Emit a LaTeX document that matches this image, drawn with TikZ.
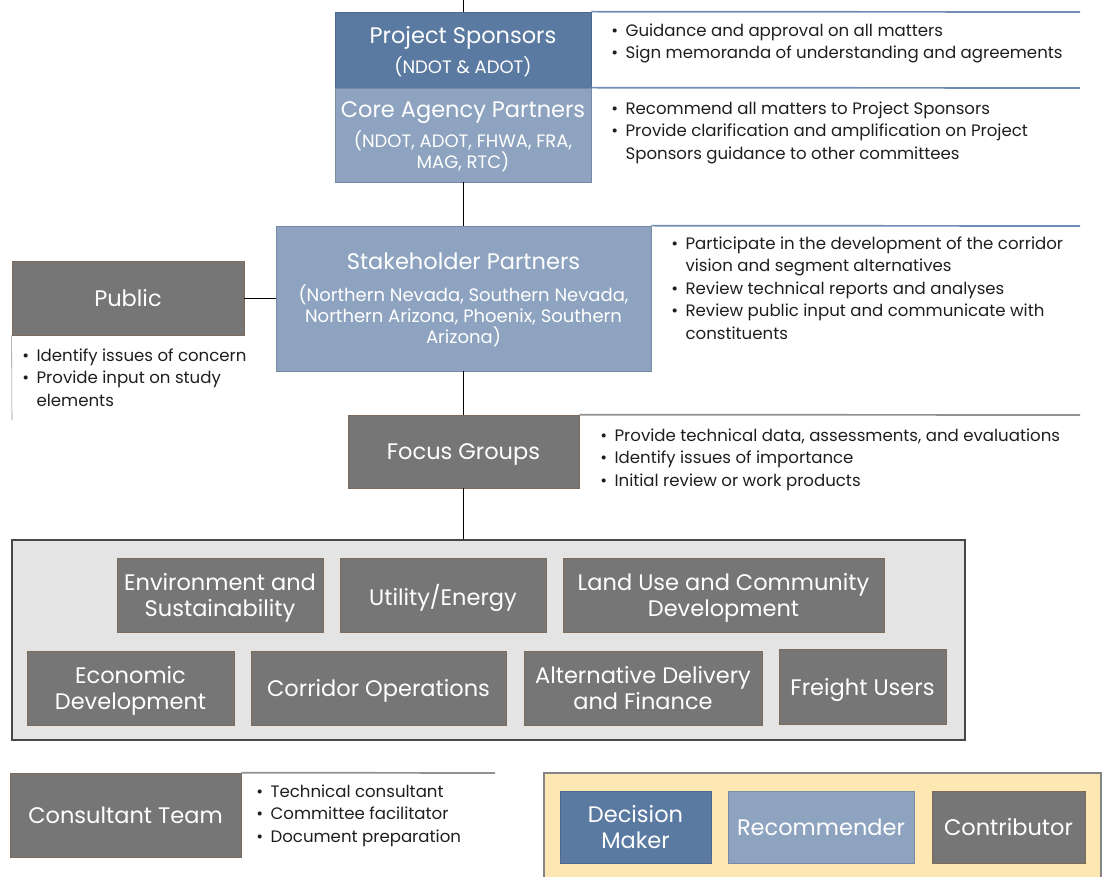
\documentclass[tikz,border=0pt]{standalone}
\usepackage{fontspec}
\setmainfont{Poppins}
\tikzset{
  cell/.style 2 args={minimum width=#1*0.025cm, minimum height=#2*0.025cm,
    inner sep=0pt, align=center, text=white, text depth=0pt, font=\fontsize{16}{19}\selectfont},
  dm/.style={fill=b1, draw=b1!85!black, line width=0.5pt},
  rm/.style={fill=b2, draw=b2!85!black, line width=0.5pt},
  ct/.style={fill=g1, draw=brn, line width=0.5pt},
  note/.style={anchor=base west, inner sep=0pt, text=tx, font=\fontsize{11.8}{16}\selectfont},
  rule/.style={line width=1.2pt},
}
\newcommand{\sub}[1]{{\fontsize{12.8}{15}\selectfont #1}}
\newcommand{\pt}{\textbullet\hspace{0.45em}}

\begin{document}
\begin{tikzpicture}[x=0.025cm,y=-0.025cm]
\definecolor{b1}{HTML}{5B7AA2}
\definecolor{b2}{HTML}{8DA3C0}
\definecolor{g1}{HTML}{767676}
\definecolor{brn}{HTML}{7E6A58}
\definecolor{tx}{HTML}{1E1E1E}
\definecolor{lg}{HTML}{E4E4E4}
\definecolor{yl}{HTML}{FDE7B2}
\definecolor{ln}{HTML}{6F8DB4}

\useasboundingbox (0,0) rectangle (1106,876);

% top of the chart
\node[cell={256}{76},dm] (spon) at (463,50) {Project Sponsors\\[2.5pt]\sub{(NDOT \& ADOT)}};
\node[cell={256}{94},rm] (core) at (463,135) {Core Agency Partners\\[2pt]\sub{(NDOT, ADOT, FHWA, FRA,}\\[-4pt]\sub{MAG, RTC)}};
\node[cell={375}{145},rm] (stake) at (463.5,298.5) {Stakeholder Partners\\[3.5pt]\sub{(Northern Nevada, Southern Nevada,}\\[-4pt]\sub{Northern Arizona, Phoenix, Southern}\\[-4pt]\sub{Arizona)}};
\node[cell={232}{74},ct] (pub) at (128,298) {Public};
\node[cell={231}{73},ct] (foc) at (463.5,451.5) {Focus Groups};

\coordinate (top) at (463,0);
\draw (top) -- (spon.north);
\draw (core.south) -- (core.south |- stake.north);
\draw (stake.south) -- (stake.south |- foc.north);
\draw (pub.east) -- (pub.east -| stake.west);

% notes
\draw[rule,ln] (spon.north east) -- (1080,12);
\draw[rule,ln] (core.north east) -- (1080,88);
\draw[rule,ln] (stake.north east) -- (1080,226);
\draw[rule,g1!80] (foc.north east) -- (1080,415);
\draw[g1!80] (pub.south west) -- (12,420);

\node[note] (nspon) at (611,36) {\begin{tabular}[t]{@{}l@{}}
\pt Guidance and approval on all matters\\
\pt Sign memoranda of understanding and agreements\end{tabular}};
\node[note] (ncore) at (611,114) {\begin{tabular}[t]{@{}l@{\hspace{0.45em}}l@{}}
\textbullet & Recommend all matters to Project Sponsors\\
\textbullet & Provide clarification and amplification on Project\\
 & Sponsors guidance to other committees\end{tabular}};
\node[note] (nstake) at (671,249) {\begin{tabular}[t]{@{}l@{\hspace{0.45em}}l@{}}
\textbullet & Participate in the development of the corridor\\
 & vision and segment alternatives\\
\textbullet & Review technical reports and analyses\\
\textbullet & Review public input and communicate with\\
 & constituents\end{tabular}};
\node[note] (npub) at (22,361) {\begin{tabular}[t]{@{}l@{\hspace{0.45em}}l@{}}
\textbullet & Identify issues of concern\\
\textbullet & Provide input on study\\
 & elements\end{tabular}};
\node[note] (nfoc) at (600,441) {\begin{tabular}[t]{@{}l@{}}
\pt Provide technical data, assessments, and evaluations\\
\pt Identify issues of importance\\
\pt Initial review or work products\end{tabular}};

% focus group members
\node[cell={953}{200},fill=lg,draw=g1!60!black,line width=0.8pt] (grp) at (488.5,640) {};
\draw (foc.south) -- (foc.south |- grp.north);

\node[cell={206}{74},ct] (env) at (220,595) {Environment and\\[-1pt]Sustainability};
\node[cell={206}{74},ct] (util) at (443,595) {Utility/Energy};
\node[cell={321}{74},ct] (land) at (723.5,595) {Land Use and Community\\[-1pt]Development};
\node[cell={207}{74},ct] (econ) at (130.5,688) {Economic\\[-1pt]Development};
\node[cell={255}{74},ct] (corr) at (378.5,688) {Corridor Operations};
\node[cell={238}{74},ct] (alt) at (643,688) {Alternative Delivery\\[-1pt]and Finance};
\node[cell={167}{75},ct] (frt) at (862.5,686.5) {Freight Users};

% consultant
\node[cell={231}{84},ct] (cons) at (125.5,815) {Consultant Team};
\draw[rule,g1!80] (cons.north east) -- (495,773);
\node[note] (ncons) at (256,797) {\begin{tabular}[t]{@{}l@{}}
\pt Technical consultant\\
\pt Committee facilitator\\
\pt Document preparation\end{tabular}};

% legend
\node[cell={557}{105},fill=yl,draw=g1!90,line width=0.8pt] (leg) at (822.5,825.5) {};
\node[cell={151}{72},dm] (dec) at (635.5,827) {Decision\\[-1pt]Maker};
\node[cell={186}{72},rm] (rec) at (821,827) {Recommender};
\node[cell={153}{72},ct] (con) at (1008.5,827) {Contributor};
\end{tikzpicture}
\end{document}
